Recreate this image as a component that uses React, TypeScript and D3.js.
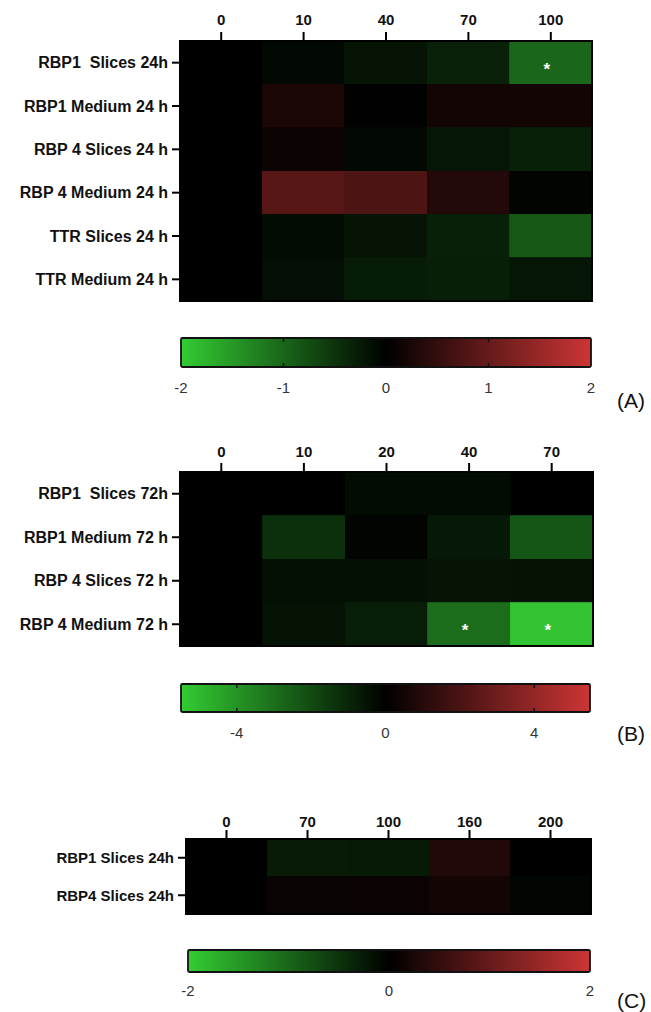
import React from "react";
import * as d3 from "d3";

// ---------- Data ----------
const colsA = ["0", "10", "40", "70", "100"];
const rowsA = [
  "RBP1  Slices 24h",
  "RBP1 Medium 24 h",
  "RBP 4 Slices 24 h",
  "RBP 4 Medium 24 h",
  "TTR Slices 24 h",
  "TTR Medium 24 h",
];
const valuesA = [
  [0, -0.08, -0.2, -0.32, -1.0],
  [0, 0.27, 0.02, 0.2, 0.2],
  [0, 0.12, -0.08, -0.22, -0.3],
  [0, 0.86, 0.75, 0.34, -0.04],
  [0, -0.12, -0.2, -0.3, -0.85],
  [0, -0.14, -0.27, -0.29, -0.22],
];
const starsA = [[0, 4]];
const ticksA = [-2, -1, 0, 1, 2];

const colsB = ["0", "10", "20", "40", "70"];
const rowsB = [
  "RBP1  Slices 72h",
  "RBP1 Medium 72 h",
  "RBP 4 Slices 72 h",
  "RBP 4 Medium 72 h",
];
const valuesB = [
  [0, 0, -0.33, -0.33, 0],
  [0, -1.3, -0.1, -0.66, -2.3],
  [0, -0.44, -0.44, -0.55, -0.5],
  [0, -0.5, -0.77, -2.9, -5.25],
];
const starsB = [[3, 3], [3, 4]];
const ticksB = [-4, 0, 4];

const colsC = ["0", "70", "100", "160", "200"];
const rowsC = ["RBP1 Slices 24h", "RBP4 Slices 24h"];
const valuesC = [
  [0, -0.26, -0.25, 0.33, 0],
  [0, 0.1, 0.11, 0.2, -0.06],
];
const starsC: number[][] = [];
const ticksC = [-2, 0, 2];

// ---------- Styling ----------
const GREEN = "#33cc33";
const RED = "#cc3535";
const FONT = "'Liberation Sans', Arial, sans-serif";

type PanelProps = {
  id: string;
  cols: string[];
  rows: string[];
  values: number[][];
  stars: number[][];
  ticks: number[];
  max: number;
  hx: [number, number];
  hy: [number, number];
  colLabelY: number;
  rowFont: number;
  bar: { x0: number; x1: number; y0: number; y1: number; labelY: number; notches: boolean };
  tag: string;
  tagY: number;
};

function Panel(p: PanelProps) {
  const x = d3.scaleBand<string>().domain(p.cols).range(p.hx);
  const y = d3.scaleBand<string>().domain(p.rows).range(p.hy);
  const color = d3
    .scaleLinear<string>()
    .domain([-p.max, 0, p.max])
    .range([GREEN, "#000000", RED])
    .interpolate(d3.interpolateRgb)
    .clamp(true);
  const cb = d3.scaleLinear().domain([-p.max, p.max]).range([p.bar.x0, p.bar.x1]);
  const gid = "grad" + p.id;
  const stops = d3.range(0, 1.0001, 0.1);
  return (
    <g>
      <defs>
        <linearGradient id={gid} x1="0" x2="1" y1="0" y2="0">
          {stops.map((t) => (
            <stop key={t} offset={t} stopColor={color(-p.max + 2 * p.max * t)} />
          ))}
        </linearGradient>
      </defs>
      {/* cells */}
      {p.values.map((row, i) =>
        row.map((v, j) => (
          <rect
            key={i + "-" + j}
            x={x(p.cols[j])}
            y={y(p.rows[i])}
            width={x.bandwidth()}
            height={y.bandwidth()}
            fill={color(v)}
            stroke={color(v)}
            strokeWidth={0.8}
            shapeRendering="crispEdges"
          />
        ))
      )}
      {p.stars.map(([i, j]) => (
        <text
          key={"s" + i + j}
          x={(x(p.cols[j]) as number) + x.bandwidth() / 2 - 4}
          y={(y(p.rows[i]) as number) + y.bandwidth() / 2 + 12}
          fill="#ffffff"
          fontFamily={FONT}
          fontWeight="bold"
          fontSize={17}
          textAnchor="middle"
        >
          *
        </text>
      ))}
      <rect
        x={p.hx[0]}
        y={p.hy[0]}
        width={p.hx[1] - p.hx[0]}
        height={p.hy[1] - p.hy[0]}
        fill="none"
        stroke="#000"
        strokeWidth={2}
      />
      {/* column axis */}
      {p.cols.map((c) => {
        const cx = (x(c) as number) + x.bandwidth() / 2;
        return (
          <g key={"c" + c}>
            <line x1={cx} x2={cx} y1={p.hy[0] - 9} y2={p.hy[0]} stroke="#000" strokeWidth={2} />
            <text
              x={cx}
              y={p.colLabelY}
              textAnchor="middle"
              fontFamily={FONT}
              fontWeight="bold"
              fontSize={15}
              fill="#111"
            >
              {c}
            </text>
          </g>
        );
      })}
      {/* row axis */}
      {p.rows.map((r) => {
        const cy = (y(r) as number) + y.bandwidth() / 2;
        return (
          <g key={"r" + r}>
            <line x1={p.hx[0] - 8} x2={p.hx[0]} y1={cy} y2={cy} stroke="#000" strokeWidth={2} />
            <text
              x={p.hx[0] - 12}
              y={cy + 5.5}
              textAnchor="end"
              fontFamily={FONT}
              fontWeight="bold"
              fontSize={p.rowFont}
              fill="#111"
              style={{ whiteSpace: "pre" }}
            >
              {r}
            </text>
          </g>
        );
      })}
      {/* colour bar */}
      <rect
        x={p.bar.x0}
        y={p.bar.y0}
        width={p.bar.x1 - p.bar.x0}
        height={p.bar.y1 - p.bar.y0}
        fill={`url(#${gid})`}
        stroke="#111"
        strokeWidth={1.8}
        rx={1.5}
      />
      {p.bar.notches &&
        p.ticks
          .filter((t) => t !== -p.max && t !== p.max && t !== 0)
          .map((t) => (
            <g key={"n" + t}>
              <line x1={cb(t)} x2={cb(t)} y1={p.bar.y0} y2={p.bar.y0 + 4} stroke="#111" strokeWidth={1.5} />
              <line x1={cb(t)} x2={cb(t)} y1={p.bar.y1 - 4} y2={p.bar.y1} stroke="#111" strokeWidth={1.5} />
            </g>
          ))}
      {p.ticks.map((t) => (
        <text
          key={"t" + t}
          x={cb(t)}
          y={p.bar.labelY}
          textAnchor="middle"
          fontFamily={FONT}
          fontSize={15}
          fill="#333"
        >
          {t}
        </text>
      ))}
      <text x={617} y={p.tagY} fontFamily={FONT} fontSize={21} fill="#111">
        {p.tag}
      </text>
    </g>
  );
}

export default function App() {
  return (
    <svg
      width={651}
      height={1012}
      style={{ position: "absolute", left: 0, top: 0, background: "#fff" }}
    >
      <rect width={651} height={1012} fill="#fff" />
      <Panel
        id="A"
        cols={colsA}
        rows={rowsA}
        values={valuesA}
        stars={starsA}
        ticks={ticksA}
        max={2}
        hx={[180, 592]}
        hy={[41, 301]}
        colLabelY={25}
        rowFont={16}
        bar={{ x0: 181, x1: 591, y0: 338, y1: 367, labelY: 393, notches: true }}
        tag="(A)"
        tagY={408}
      />
      <Panel
        id="B"
        cols={colsB}
        rows={rowsB}
        values={valuesB}
        stars={starsB}
        ticks={ticksB}
        max={5.5}
        hx={[180, 593]}
        hy={[472, 646]}
        colLabelY={457}
        rowFont={16}
        bar={{ x0: 181, x1: 590, y0: 684, y1: 712, labelY: 738, notches: true }}
        tag="(B)"
        tagY={741}
      />
      <Panel
        id="C"
        cols={colsC}
        rows={rowsC}
        values={valuesC}
        stars={starsC}
        ticks={ticksC}
        max={2}
        hx={[186, 591]}
        hy={[839, 914]}
        colLabelY={827}
        rowFont={15}
        bar={{ x0: 188, x1: 590, y0: 950, y1: 972, labelY: 996, notches: false }}
        tag="(C)"
        tagY={1008}
      />
    </svg>
  );
}
